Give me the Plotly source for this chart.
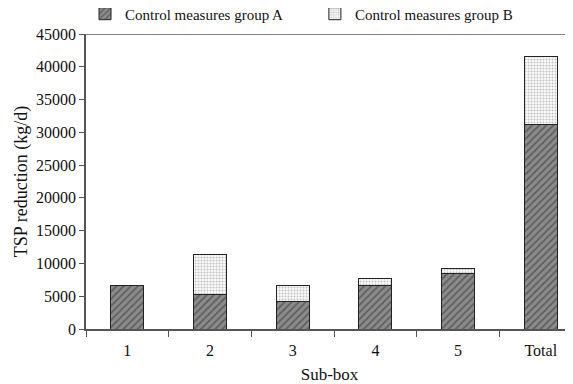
import plotly.graph_objects as go

categories = ["1", "2", "3", "4", "5", "Total"]
group_a = [6600, 5200, 4200, 6700, 8500, 31200]
group_b = [100, 6100, 2500, 1000, 700, 10400]
y_ticks = [0, 5000, 10000, 15000, 20000, 25000, 30000, 35000, 40000, 45000]
y_tick_labels = [str(v) for v in y_ticks]

font = "Liberation Serif, Times New Roman, serif"

fig = go.Figure()
fig.add_trace(go.Bar(
    x=categories, y=group_a, name="Control measures group A", legend="legend", showlegend=True,
    marker=dict(color="#7a7a7a", line=dict(color="#222", width=1),
                pattern=dict(shape="/", fgcolor="#333", bgcolor="#8c8c8c", size=5, solidity=0.35)),
    width=0.4,
))
fig.add_trace(go.Bar(
    x=categories, y=group_b, name="Control measures group B", legend="legend2", showlegend=True,
    marker=dict(color="#eee", line=dict(color="#222", width=1),
                pattern=dict(shape=".", fgcolor="#888", bgcolor="#fafafa", size=3, solidity=0.35)),
    width=0.4,
))

leg_common = dict(orientation="h", yanchor="middle", xanchor="left",
                  font=dict(size=15, family=font), itemwidth=30, bgcolor="rgba(0,0,0,0)")

fig.update_layout(
    barmode="stack",
    showlegend=True,
    width=565, height=376,
    margin=dict(l=78, r=0, t=26, b=55, autoexpand=False),
    paper_bgcolor="white", plot_bgcolor="white",
    font=dict(family=font, size=16, color="#111"),
    legend=dict(x=-0.002, y=1.068, **leg_common),
    legend2=dict(x=0.47, y=1.068, **leg_common),
    xaxis=dict(
        range=[-0.5, 5.39], showline=True, linecolor="#555", linewidth=1.5,
        ticks="outside", ticklen=6, tickcolor="#555", tickson="boundaries",
        ticklabelstandoff=6,
        title=dict(text="Sub-box", standoff=12, font=dict(size=17)), showgrid=False,
        tickfont=dict(size=16, family=font),
    ),
    yaxis=dict(
        range=[0, 45000], tickvals=y_ticks, ticktext=y_tick_labels,
        showline=True, linecolor="#555", linewidth=1.5,
        ticks="outside", ticklen=5, tickcolor="#555", showgrid=False,
        title=dict(text="TSP reduction (kg/d)", standoff=4, font=dict(size=18)), zeroline=False,
        tickfont=dict(size=16, family=font),
    ),
)
fig.add_shape(type="line", xref="paper", yref="y", x0=0, x1=1, y0=45000, y1=45000,
              line=dict(color="#555", width=1.5))

fig.write_html("out.html")
